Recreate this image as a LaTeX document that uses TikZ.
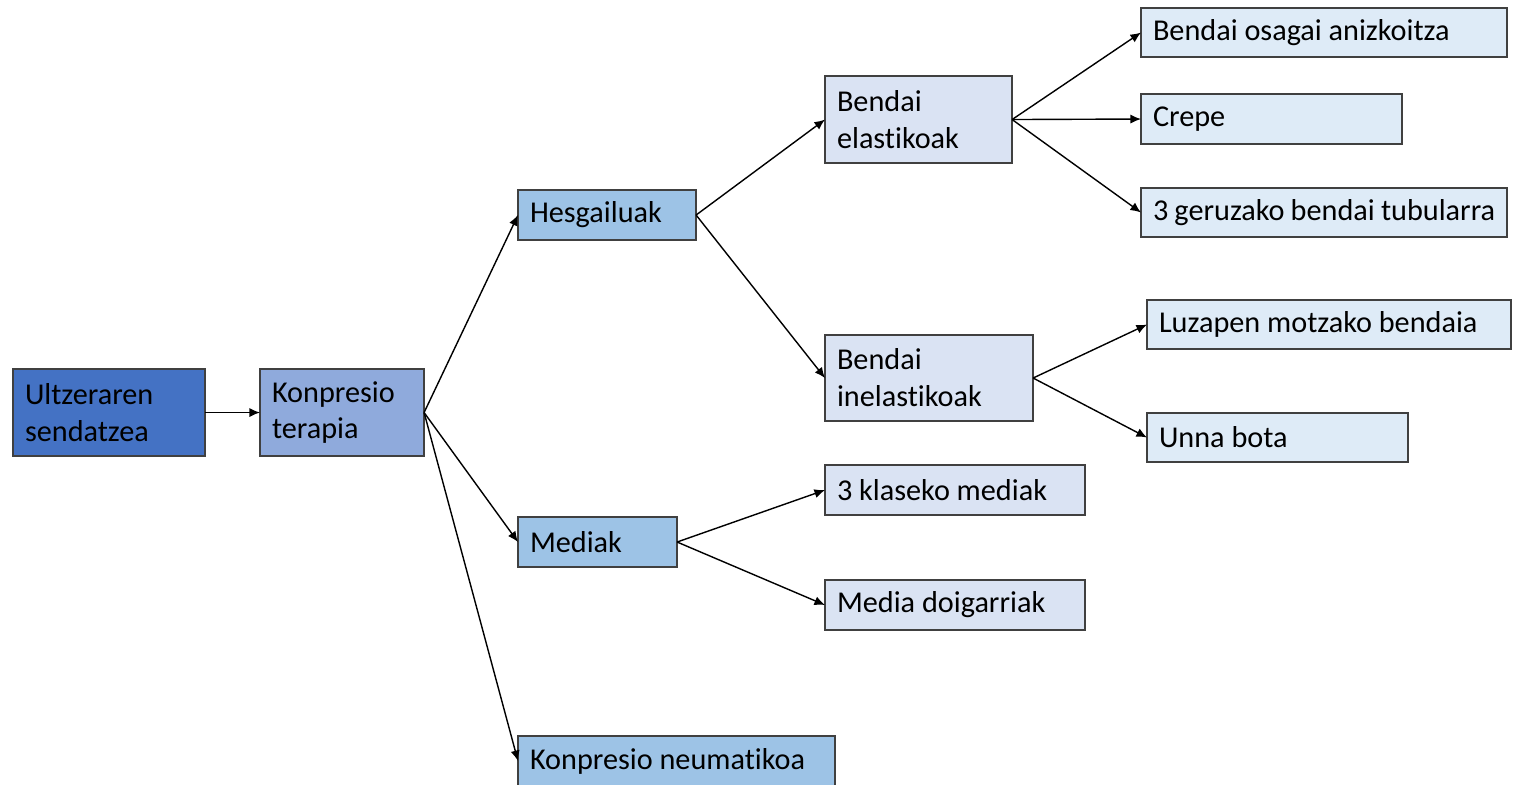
\documentclass[tikz,border=0pt]{standalone}
\usepackage{fontspec}
\setmainfont{Carlito}[Ligatures=NoCommon]
\usepackage{tikz}
\usetikzlibrary{arrows.meta}
\definecolor{rootblue}{HTML}{4472C4}
\definecolor{midblue}{HTML}{8FAADC}
\definecolor{skyblue}{HTML}{9DC3E6}
\definecolor{paleblue}{HTML}{DAE3F3}
\definecolor{leafblue}{HTML}{DEEBF7}
\tikzset{
  treenode/.style = {anchor=north west, align=flush left, inner xsep=0.12cm,
    inner ysep=0pt, outer sep=0pt, draw=black!75, line width=0.5pt,
    font=\fontsize{8.6pt}{10.5pt}\selectfont, text=black},
  box_root/.style = {treenode, fill=rootblue},% racine
  box_a/.style = {treenode, fill=midblue},% niveau 1
  box_b/.style = {treenode, fill=skyblue},% niveau 2
  box_c/.style = {treenode, fill=paleblue},% niveau 3
  box_d/.style = {treenode, fill=leafblue},% feuilles
  arr/.style = {draw=black, line width=0.4pt, -{Latex[length=3pt,width=2.6pt]}}
}

\begin{document}
\begin{tikzpicture}[x=0.01cm, y=-0.01cm]
  \useasboundingbox (0,0) rectangle (1518,784);
  % racine et premier niveau
  \node [box_root, text width=1.68cm, minimum height=0.87cm] (ulz) at (13,369) {Ultzeraren\\sendatzea};
  \node [box_a, text width=1.40cm, minimum height=0.87cm] (konp) at (260,369) {Konpresio\\terapia};
  % deuxieme niveau
  \node [box_b, text width=1.54cm, minimum height=0.50cm] (hesg) at (518,190) {Hesgailuak};
  \node [box_b, text width=1.35cm, minimum height=0.50cm] (medi) at (518,517) {Mediak};
  \node [box_b, text width=2.93cm, minimum height=0.50cm] (neum) at (518,736) {Konpresio neumatikoa};
  % troisieme niveau
  \node [box_c, text width=1.63cm, minimum height=0.87cm] (elas) at (825,76) {Bendai\\elastikoak};
  \node [box_c, text width=1.84cm, minimum height=0.86cm] (inel) at (825,335) {Bendai\\inelastikoak};
  \node [box_c, text width=2.36cm, minimum height=0.50cm] (klase) at (825,465) {3 klaseko mediak};
  \node [box_c, text width=2.36cm, minimum height=0.50cm] (doig) at (825,580) {Media doigarriak};
  % feuilles
  \node [box_d, text width=3.42cm, minimum height=0.49cm] (osag) at (1141,8) {Bendai osagai anizkoitza};
  \node [box_d, text width=2.37cm, minimum height=0.50cm] (crep) at (1141,94) {Crepe};
  \node [box_d, text width=3.42cm, minimum height=0.49cm] (geru) at (1141,188) {3 geruzako bendai tubularra};
  \node [box_d, text width=3.40cm, minimum height=0.49cm] (luza) at (1147,300) {Luzapen motzako bendaia};
  \node [box_d, text width=2.37cm, minimum height=0.49cm] (unna) at (1147,413) {Unna bota};
  % fleches
  \foreach \a/\b in {ulz/konp, konp/hesg, konp/medi, konp/neum,
      hesg/elas, hesg/inel, medi/klase, medi/doig,
      elas/osag, elas/crep, elas/geru, inel/luza, inel/unna}
    \draw [arr] (\a.east) -- (\b.west);
\end{tikzpicture}
\end{document}
